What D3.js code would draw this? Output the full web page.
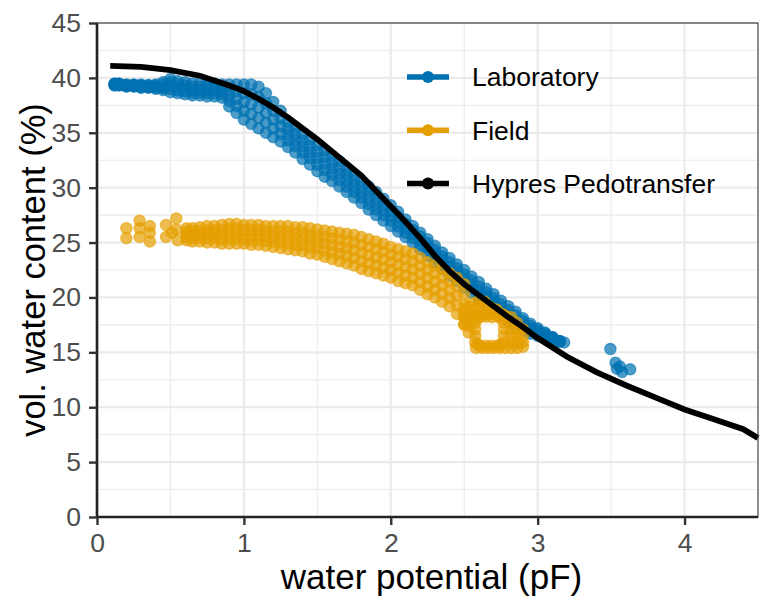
<!DOCTYPE html>
<html>
<head>
<meta charset="utf-8">
<script src="https://cdn.jsdelivr.net/npm/d3@7"></script>
<style>
  body { margin: 0; background: #fff; }
  svg { display: block; font-family: "Liberation Sans", Arial, sans-serif; }
</style>
</head>
<body>
<script>
// ---- data ----
const xTicks = [0, 1, 2, 3, 4];
const yTicks = [0, 5, 10, 15, 20, 25, 30, 35, 40, 45];
const xMinor = [0.5, 1.5, 2.5, 3.5];
const yMinor = [2.5, 7.5, 12.5, 17.5, 22.5, 27.5, 32.5, 37.5, 42.5];

// laboratory retention band: pF positions and five rows of points across the band
const labPF = [0.12, 0.15, 0.20, 0.25, 0.30, 0.35, 0.40, 0.45, 0.50, 0.55, 0.60, 0.65, 0.70, 0.75, 0.80,
  0.85, 0.90, 0.95, 1.00, 1.05, 1.10, 1.15, 1.20, 1.25, 1.30, 1.35, 1.40, 1.45, 1.50, 1.55, 1.60,
  1.65, 1.70, 1.75, 1.80, 1.85, 1.90, 1.95, 2.00, 2.05, 2.10, 2.15, 2.20, 2.25, 2.30, 2.35, 2.40,
  2.45, 2.50, 2.55, 2.60, 2.65, 2.70, 2.75, 2.80, 2.85, 2.90, 2.95, 3.00, 3.05, 3.10, 3.15];
const labTop = [39.5, 39.5, 39.4, 39.4, 39.4, 39.35, 39.4, 39.6, 39.9, 39.7, 39.6, 39.5, 39.5, 39.5, 39.5,
  39.4, 39.4, 39.4, 39.4, 39.4, 39.2, 38.6, 37.8, 37.0, 36.0, 35.5, 34.9, 34.4, 33.9, 33.4, 32.9,
  32.4, 31.7, 31.2, 30.6, 30.1, 29.6, 29.0, 28.4, 27.8, 27.1, 26.5, 25.9, 25.3, 24.7, 24.1, 23.6,
  23.0, 22.5, 21.9, 21.4, 20.8, 20.3, 19.7, 19.2, 18.7, 18.1, 17.6, 17.2, 16.8, 16.4, 16.0];
const labUpper = [39.45, 39.45, 39.35, 39.35, 39.3, 39.3, 39.3, 39.4, 39.6, 39.4, 39.3, 39.2, 39.2, 39.2, 39.2,
  39.1, 38.9, 38.75, 38.6, 38.5, 38.25, 37.7, 37.0, 36.3, 35.4, 34.9, 34.3, 33.8, 33.3, 32.8, 32.3,
  31.8, 31.2, 30.7, 30.1, 29.6, 29.1, 28.5, 27.9, 27.35, 26.7, 26.15, 25.55, 24.95, 24.35, 23.75, 23.2,
  22.65, 22.1, 21.55, 21.0, 20.45, 19.95, 19.35, 18.85, 18.35, 17.85, 17.4, 17.05, 16.7, 16.35, 16.0];
const labMid = [39.4, 39.4, 39.3, 39.3, 39.25, 39.2, 39.2, 39.2, 39.3, 39.1, 39.0, 38.9, 38.9, 38.9, 38.9,
  38.8, 38.4, 38.1, 37.8, 37.6, 37.3, 36.8, 36.2, 35.6, 34.85, 34.35, 33.75, 33.25, 32.7, 32.2, 31.75,
  31.25, 30.65, 30.15, 29.6, 29.05, 28.55, 28.0, 27.45, 26.9, 26.3, 25.8, 25.2, 24.6, 24.0, 23.4, 22.8,
  22.3, 21.7, 21.2, 20.6, 20.1, 19.6, 19.0, 18.5, 18.0, 17.6, 17.2, 16.9, 16.6, 16.3, 16.0];
const labLower = [39.35, 39.35, 39.25, 39.25, 39.15, 39.15, 39.1, 39.05, 39.0, 38.85, 38.75, 38.65, 38.65, 38.6, 38.6,
  38.5, 37.9, 37.45, 37.0, 36.7, 36.35, 35.9, 35.4, 34.9, 34.3, 33.8, 33.2, 32.7, 32.1, 31.6, 31.2,
  30.7, 30.1, 29.6, 29.1, 28.5, 28.0, 27.5, 27.0, 26.45, 25.9, 25.4, 24.8, 24.2, 23.6, 23.0, 22.4,
  21.9, 21.3, 20.8, 20.2, 19.7, 19.2, 18.65, 18.15, 17.7, 17.3, 16.95, 16.7, 16.45, 16.25, 16.0];
const labBottom = [39.3, 39.3, 39.2, 39.2, 39.1, 39.1, 39.0, 38.9, 38.7, 38.6, 38.5, 38.4, 38.4, 38.3, 38.3,
  38.2, 37.4, 36.8, 36.2, 35.8, 35.4, 35.0, 34.6, 34.2, 33.7, 33.2, 32.6, 32.1, 31.5, 31.0, 30.6,
  30.1, 29.6, 29.1, 28.6, 28.0, 27.5, 27.0, 26.5, 26.0, 25.5, 25.0, 24.4, 23.8, 23.2, 22.6, 22.0,
  21.5, 20.9, 20.4, 19.8, 19.3, 18.8, 18.3, 17.8, 17.4, 17.0, 16.7, 16.5, 16.3, 16.2, 16.0];
// stray laboratory points at the dry end
const labExtraPF = [3.18, 3.495, 3.53, 3.54, 3.56, 3.575, 3.63];
const labExtraTheta = [15.9, 15.3, 14.05, 13.5, 13.7, 13.2, 13.45];

// field band
const fieldPF = [0.61, 0.65, 0.70, 0.75, 0.80, 0.85, 0.90, 0.95, 1.00, 1.05, 1.10, 1.15, 1.20, 1.25,
  1.30, 1.35, 1.40, 1.45, 1.50, 1.55, 1.60, 1.65, 1.70, 1.75, 1.80, 1.85, 1.90, 1.95, 2.00, 2.05,
  2.10, 2.15, 2.20, 2.25, 2.30, 2.35, 2.40, 2.45, 2.50];
const fieldTop = [26.3, 26.3, 26.4, 26.5, 26.5, 26.6, 26.7, 26.7, 26.6, 26.6, 26.6, 26.5, 26.5, 26.5,
  26.5, 26.4, 26.4, 26.3, 26.2, 26.1, 26.0, 25.9, 25.8, 25.7, 25.5, 25.3, 25.1, 24.9, 24.6, 24.4,
  24.2, 24.0, 23.6, 23.2, 22.9, 22.6, 22.2, 21.8, 21.2];
const fieldUpper = [26.0, 26.0, 26.05, 26.1, 26.1, 26.15, 26.25, 26.25, 26.15, 26.15, 26.15, 26.05, 26.0, 26.0,
  25.95, 25.85, 25.85, 25.7, 25.6, 25.5, 25.4, 25.25, 25.1, 25.0, 24.75, 24.6, 24.4, 24.2, 23.9, 23.7,
  23.5, 23.3, 22.9, 22.5, 22.2, 21.85, 21.45, 21.0, 20.3];
const fieldMid = [25.75, 25.7, 25.75, 25.75, 25.75, 25.75, 25.8, 25.8, 25.75, 25.7, 25.7, 25.6, 25.55, 25.5,
  25.45, 25.35, 25.3, 25.15, 25.05, 24.9, 24.75, 24.6, 24.45, 24.3, 24.05, 23.85, 23.65, 23.45, 23.2, 22.95,
  22.75, 22.55, 22.15, 21.75, 21.45, 21.1, 20.7, 20.15, 19.35];
const fieldLower = [25.45, 25.4, 25.45, 25.4, 25.4, 25.3, 25.35, 25.35, 25.3, 25.25, 25.25, 25.15, 25.1, 25.0,
  24.9, 24.8, 24.75, 24.6, 24.5, 24.3, 24.1, 23.95, 23.8, 23.6, 23.3, 23.1, 22.9, 22.7, 22.5, 22.2,
  22.0, 21.8, 21.4, 21.0, 20.7, 20.35, 19.95, 19.3, 18.4];
const fieldBottom = [25.2, 25.1, 25.1, 25.0, 25.0, 24.9, 24.9, 24.9, 24.9, 24.8, 24.8, 24.7, 24.6, 24.5,
  24.4, 24.3, 24.2, 24.0, 23.9, 23.7, 23.5, 23.3, 23.1, 22.9, 22.6, 22.4, 22.2, 22.0, 21.8, 21.5,
  21.3, 21.1, 20.7, 20.3, 20.0, 19.6, 19.2, 18.5, 17.5];
// scattered field points: wet-end clusters, then the dry-end blob round its hole
const fieldExtraPF = [0.20, 0.20, 0.29, 0.29, 0.29, 0.36, 0.36, 0.36, 0.47, 0.47, 0.51, 0.54, 0.54, 0.55,
  2.50, 2.50, 2.50, 2.53, 2.53, 2.53, 2.53, 2.53, 2.575, 2.575, 2.575, 2.575, 2.575, 2.56, 2.56,
  2.60, 2.60, 2.60, 2.64, 2.64, 2.64, 2.68, 2.68, 2.72, 2.72, 2.76,
  2.61, 2.65, 2.69, 2.73, 2.77, 2.61, 2.65, 2.69, 2.73, 2.59, 2.75, 2.59, 2.75,
  2.77, 2.77, 2.77, 2.77, 2.78, 2.82, 2.82, 2.82, 2.82, 2.82, 2.86, 2.86, 2.86, 2.86, 2.90, 2.90, 2.90,
  2.58, 2.62, 2.66, 2.70, 2.74, 2.78, 2.82, 2.86, 2.90];
const fieldExtraTheta = [26.3, 25.4, 27.0, 26.3, 25.5, 26.5, 25.9, 25.1, 26.6, 25.5, 25.9, 27.2, 26.2, 25.2,
  17.6, 18.2, 18.8, 16.8, 17.4, 18.0, 18.6, 19.2, 15.9, 16.5, 17.1, 17.7, 18.3, 18.9, 19.5,
  18.5, 19.1, 19.7, 18.5, 19.1, 19.6, 18.5, 19.1, 18.5, 18.9, 18.5,
  18.2, 18.25, 18.2, 18.25, 18.2, 15.6, 15.6, 15.6, 15.6, 15.75, 15.75, 18.1, 18.1,
  15.9, 16.5, 17.1, 17.7, 18.3, 15.9, 16.5, 17.1, 17.7, 18.2, 15.9, 16.5, 17.1, 17.7, 15.9, 16.5, 17.1,
  15.4, 15.4, 15.4, 15.4, 15.4, 15.4, 15.4, 15.4, 15.5];

// Hypres pedotransfer curve
const hypPF = [0.09, 0.3, 0.5, 0.7, 0.9, 1.0, 1.1, 1.2, 1.3, 1.4, 1.5, 1.6, 1.7, 1.8, 1.9, 2.0, 2.1,
  2.2, 2.3, 2.4, 2.5, 2.6, 2.7, 2.8, 2.9, 3.0, 3.2, 3.4, 3.6, 3.8, 4.0, 4.2, 4.4, 4.5];
const hypTheta = [41.1, 41.0, 40.7, 40.2, 39.3, 38.8, 38.1, 37.3, 36.4, 35.4, 34.4, 33.3, 32.2, 31.1,
  29.7, 28.3, 26.9, 25.4, 23.8, 22.4, 21.2, 20.2, 19.2, 18.2, 17.3, 16.3, 14.6, 13.2, 12.0, 10.9,
  9.8, 8.9, 8.0, 7.2];

const seriesNames = ["Laboratory", "Field", "Hypres Pedotransfer"];
const seriesColors = ["#0072B2", "#E69F00", "#000000"];

// ---- layout ----
const W = 772, H = 608;
const margin = { top: 23, right: 14, bottom: 91, left: 97 };
const width = W - margin.left - margin.right;
const height = H - margin.top - margin.bottom;

const svg = d3.select("body").append("svg")
  .attr("width", W)
  .attr("height", H);

const x = d3.scaleLinear().domain([0, 4.5]).range([0, width]);
const y = d3.scaleLinear().domain([0, 45]).range([height, 0]);

const g = svg.append("g")
  .attr("transform", `translate(${margin.left},${margin.top})`);

/* grid */
const grid = g.append("g").attr("class", "grid");
grid.selectAll(".vminor").data(xMinor).enter().append("line")
  .attr("x1", d => x(d)).attr("x2", d => x(d)).attr("y1", 0).attr("y2", height)
  .attr("stroke", "#ebebeb").attr("stroke-width", 1.1);
grid.selectAll(".hminor").data(yMinor).enter().append("line")
  .attr("x1", 0).attr("x2", width).attr("y1", d => y(d)).attr("y2", d => y(d))
  .attr("stroke", "#ebebeb").attr("stroke-width", 1.1);
grid.selectAll(".vmajor").data(xTicks).enter().append("line")
  .attr("x1", d => x(d)).attr("x2", d => x(d)).attr("y1", 0).attr("y2", height)
  .attr("stroke", "#ebebeb").attr("stroke-width", 2.2);
grid.selectAll(".hmajor").data(yTicks).enter().append("line")
  .attr("x1", 0).attr("x2", width).attr("y1", d => y(d)).attr("y2", d => y(d))
  .attr("stroke", "#ebebeb").attr("stroke-width", 2.2);

/* points */
function rows(pf, list) {
  const out = [];
  list.forEach(vals => vals.forEach((v, i) => out.push([pf[i], v])));
  return out;
}
const labPoints = rows(labPF, [labTop, labUpper, labMid, labLower, labBottom])
  .concat(labExtraPF.map((p, i) => [p, labExtraTheta[i]]));
const fieldPoints = rows(fieldPF, [fieldTop, fieldUpper, fieldMid, fieldLower, fieldBottom])
  .concat(fieldExtraPF.map((p, i) => [p, fieldExtraTheta[i]]));

function drawPoints(data, color, cls) {
  g.append("g").attr("class", cls)
    .selectAll("circle")
    .data(data)
    .enter().append("circle")
    .attr("cx", d => x(d[0]))
    .attr("cy", d => y(d[1]))
    .attr("r", 5.7)
    .attr("fill", color)
    .attr("fill-opacity", 0.7)
    .attr("stroke", color)
    .attr("stroke-opacity", 0.6)
    .attr("stroke-width", 1.1);
}
drawPoints(labPoints, seriesColors[0], "lab");
drawPoints(fieldPoints, seriesColors[1], "field");

/* pedotransfer line */
const line = d3.line().x(d => x(d[0])).y(d => y(d[1]));
g.append("path")
  .datum(hypPF.map((p, i) => [p, hypTheta[i]]))
  .attr("d", line)
  .attr("fill", "none")
  .attr("stroke", seriesColors[2])
  .attr("stroke-width", 5.8);

/* panel border (thin) */
g.append("rect")
  .attr("width", width).attr("height", height)
  .attr("fill", "none").attr("stroke", "#333").attr("stroke-width", 1.1);

/* axes */
const xAxis = d3.axisBottom(x).tickValues(xTicks).tickSize(8).tickPadding(8).tickFormat(d3.format("d"));
const yAxis = d3.axisLeft(y).tickValues(yTicks).tickSize(8).tickPadding(8).tickFormat(d3.format("d"));

function styleAxis(sel) {
  sel.select(".domain").attr("stroke", "#222").attr("stroke-width", 2.6);
  sel.selectAll(".tick line").attr("stroke", "#333").attr("stroke-width", 2.4);
  sel.selectAll(".tick text").attr("fill", "#4d4d4d").style("font-size", "26.5px");
}
g.append("g")
  .attr("transform", `translate(0,${height})`)
  .call(xAxis)
  .call(styleAxis)
  .call(s => s.select(".domain").attr("d", `M0,0H${width}`));
g.append("g")
  .call(yAxis)
  .call(styleAxis)
  .call(s => s.select(".domain").attr("d", `M0,${height}V0`));

/* axis titles */
svg.append("text")
  .attr("x", margin.left + width / 2 + 4)
  .attr("y", 589)
  .attr("text-anchor", "middle")
  .style("font-size", "35px")
  .attr("fill", "#000")
  .text("water potential (pF)");
svg.append("text")
  .attr("transform", `translate(45,${margin.top + height / 2})rotate(-90)`)
  .attr("text-anchor", "middle")
  .style("font-size", "34.5px")
  .attr("fill", "#000")
  .text("vol. water content (%)");

/* legend */
const legend = svg.append("g").attr("class", "legend")
  .attr("transform", "translate(407,77)");
const item = legend.selectAll("g")
  .data(seriesNames)
  .enter().append("g")
  .attr("transform", (d, i) => `translate(0,${i * 53.3})`);
item.append("line")
  .attr("x1", 0).attr("x2", 42)
  .attr("stroke", (d, i) => seriesColors[i])
  .attr("stroke-width", 5.5);
item.append("circle")
  .attr("cx", 21).attr("r", 6)
  .attr("fill", (d, i) => seriesColors[i]);
item.append("text")
  .attr("x", 65)
  .attr("dy", "0.35em")
  .style("font-size", "26.5px")
  .attr("fill", "#000")
  .text(d => d);
</script>
</body>
</html>
